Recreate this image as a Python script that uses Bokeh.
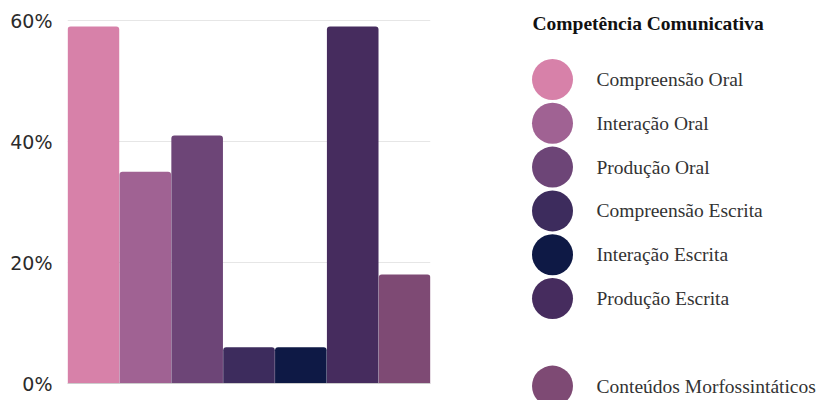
from bokeh.plotting import figure
from bokeh.models import ColumnDataSource, Range1d, FactorRange, Span, FixedTicker
from bokeh.layouts import row
from bokeh.embed import file_html
from bokeh.resources import INLINE
from bokeh.core.properties import value

categories = ["Compreensão Oral", "Interação Oral", "Produção Oral",
              "Compreensão Escrita", "Interação Escrita", "Produção Escrita",
              "Conteúdos Morfossintáticos"]
values = [59, 35, 41, 6, 6, 59, 18]
colors = ["#d781a9", "#a06293", "#6d4577", "#3d2c5d", "#0e1945", "#462c5e", "#7e4a74"]
y_ticks = [0, 20, 40, 60]
y_tick_labels = ["0%", "20%", "40%", "60%"]
legend_title = "Competência Comunicativa"
legend_slots = [0, 1, 2, 3, 4, 5, 7]

H = 400
Y_TOP, Y_BOT = 20, 383          # pixel rows of the top tick and of zero
ppu = (Y_BOT - Y_TOP) / (y_ticks[-1] - y_ticks[0])
y_start = y_ticks[0] - (H - Y_BOT) / ppu
y_end = y_ticks[-1] + Y_TOP / ppu

src = ColumnDataSource(dict(cat=categories, val=values, color=colors))

p = figure(width=438, height=H, x_range=FactorRange(*categories),
           y_range=Range1d(y_start, y_end), output_backend="svg", toolbar_location=None,
           min_border_left=67, min_border_right=8, min_border_top=0, min_border_bottom=0)
p.vbar(x="cat", top="val", bottom=0, width=0.995, fill_color="color", line_color=None,
       source=src, border_radius=(3, 3, 0, 0))
p.xaxis.visible = False
p.outline_line_color = None
p.xgrid.grid_line_color = None
p.ygrid.grid_line_color = "#e6e6e6"
p.yaxis.ticker = FixedTicker(ticks=y_ticks)
p.yaxis.major_label_overrides = {t: l for t, l in zip(y_ticks, y_tick_labels)}
p.yaxis.axis_line_color = None
p.yaxis.major_tick_line_color = None
p.yaxis.minor_tick_line_color = None
p.yaxis.major_tick_out = 0
p.yaxis.major_tick_in = 0
p.yaxis.minor_tick_out = 0
p.yaxis.major_label_standoff = 15
p.yaxis.major_label_text_font = "DejaVu Sans"
p.yaxis.major_label_text_font_size = "19px"
p.yaxis.major_label_text_color = "#2b2b2b"
p.add_layout(Span(location=0, dimension="width", line_color="#cccccc", line_width=1))

# legend panel
step = 43.8
first = 79
top_i = -first / step
bot_i = (H - first) / step
q = figure(width=378, height=H, x_range=Range1d(0, 378), y_range=Range1d(bot_i, top_i),
           output_backend="svg", toolbar_location=None,
           min_border_left=0, min_border_right=0, min_border_top=0, min_border_bottom=0)
q.axis.visible = False
q.grid.visible = False
q.outline_line_color = None
lsrc = ColumnDataSource(dict(y=legend_slots, label=categories, color=colors))
q.scatter(x=114, y="y", size=41, fill_color="color", line_color=None, source=lsrc)
q.text(x=158, y="y", text="label", source=lsrc, text_font=value("Liberation Serif"),
       text_font_size="19.5px", text_baseline="middle", text_color="#333333")
q.text(x=94, y=(23 - first) / step, text=[legend_title], text_font=value("Liberation Serif"),
       text_font_size="19.5px", text_font_style="bold", text_baseline="middle", text_color="#111111")

layout = row(p, q)
open("out.html", "w").write(file_html(layout, INLINE))
